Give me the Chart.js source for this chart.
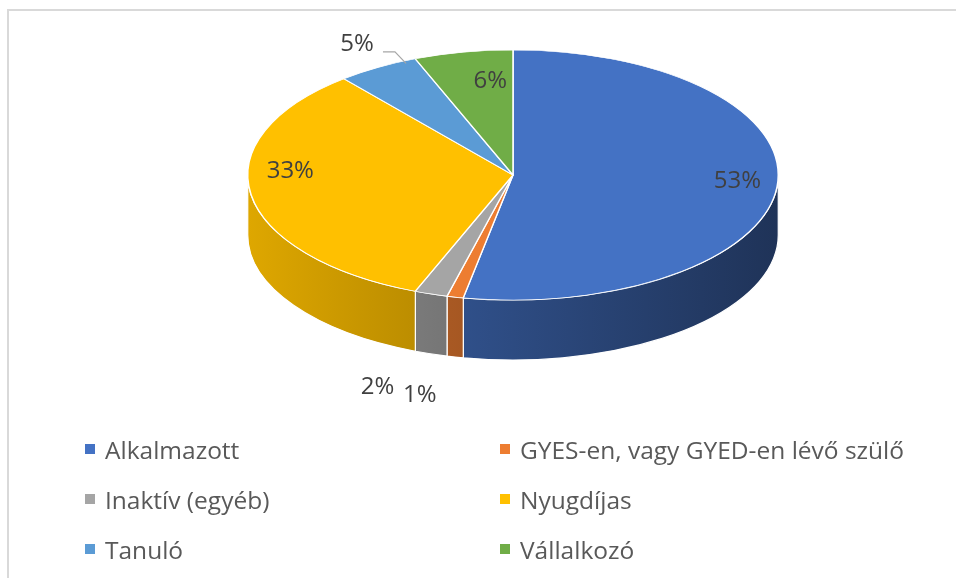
<!DOCTYPE html>
<html>
<head>
<meta charset="utf-8">
<script src="https://cdn.jsdelivr.net/npm/chart.js@4/dist/chart.umd.min.js"></script>
<style>
  body { margin: 0; background: #fff; }
  #wrap { position: relative; width: 956px; height: 578px; overflow: hidden; }
  #frame { position: absolute; left: 7px; top: 9px; width: 960px; height: 600px;
           border-left: 2px solid #d9d9d9; border-top: 2px solid #d9d9d9; }
  canvas { position: absolute; left: 0; top: 0; }
  .item { position: absolute; display: flex; align-items: center; height: 30px;
          font-family: "Open Sans", sans-serif; font-size: 24.5px; color: #595959; white-space: nowrap; }
  .item span.box { width: 10px; height: 10px; margin-right: 10px; }
</style>
</head>
<body>
<div id="wrap">
  <div id="frame"></div>
  <canvas id="pieChart" width="956" height="578"></canvas>
</div>
<script>
// Adatok
const categories = ["Alkalmazott", "GYES-en, vagy GYED-en lévő szülő", "Inaktív (egyéb)", "Nyugdíjas", "Tanuló", "Vállalkozó"];
const shares = [53, 1, 2, 33, 5, 6];
const colors = ["#4472C4", "#ED7D31", "#A5A5A5", "#FFC000", "#5B9BD5", "#70AD47"];

// 3D megjelenés beállításai
const topY = 175;      // a felső ellipszis középpontja
const radiusY = 125;   // függőleges sugár
const depth = 60;      // oldalfal magassága
// címke: [sugár arány, dx, dy, vezetővonal]
const labelPos = [[0.85, 0, -4, false], [1.35, -15, -5, false], [1.3, -29, -2, false],
                  [0.85, 0, -20, false], [1.2, 6, -2, true], [0.7, 12, -8, false]];

function shade(hex, f) {
  const n = parseInt(hex.slice(1), 16);
  const r = Math.round(((n >> 16) & 255) * f), g = Math.round(((n >> 8) & 255) * f), b = Math.round((n & 255) * f);
  return "rgb(" + r + "," + g + "," + b + ")";
}

const pie3d = {
  id: "pie3d",
  beforeDatasetsDraw(chart) {
    const ctx = chart.ctx;
    const arcs = chart.getDatasetMeta(0).data;
    const x0 = arcs[0].x, y0 = arcs[0].y, R = arcs[0].outerRadius;
    const k = radiusY / R;
    // oldalfalak
    ctx.save();
    arcs.forEach((arc, i) => {
      const a = Math.max(arc.startAngle, 0), b = Math.min(arc.endAngle, Math.PI);
      if (a >= b) return;
      const grad = ctx.createLinearGradient(x0 - R, 0, x0 + R, 0);
      grad.addColorStop(0, shade(colors[i], 0.87));
      grad.addColorStop(1, shade(colors[i], 0.45));
      ctx.beginPath();
      ctx.ellipse(x0, topY, R, R * k, 0, a, b, false);
      ctx.ellipse(x0, topY + depth, R, R * k, 0, b, a, true);
      ctx.closePath();
      ctx.fillStyle = grad;
      ctx.fill();
      ctx.strokeStyle = "#ffffff";
      ctx.lineWidth = 1.2;
      ctx.stroke();
    });
    ctx.restore();
    // felső lap: lapított kör
    ctx.save();
    ctx.translate(x0, topY);
    ctx.scale(1, k);
    ctx.translate(-x0, -y0);
  },
  afterDatasetsDraw(chart) {
    const ctx = chart.ctx;
    ctx.restore();
    const arcs = chart.getDatasetMeta(0).data;
    const x0 = arcs[0].x, R = arcs[0].outerRadius;
    const k = radiusY / R;
    ctx.save();
    ctx.font = "24px 'Open Sans', sans-serif";
    ctx.fillStyle = "#404040";
    ctx.textAlign = "center";
    ctx.textBaseline = "middle";
    arcs.forEach((arc, i) => {
      const mid = (arc.startAngle + arc.endAngle) / 2;
      const [rf, dx, dy, leader] = labelPos[i];
      let x = x0 + R * rf * Math.cos(mid);
      let y = topY + R * k * rf * Math.sin(mid);
      if (rf > 1 && Math.sin(mid) > 0) y += depth;
      x += dx; y += dy;
      ctx.fillText(shares[i] + "%", x, y);
      if (leader) {
        const t = arc.startAngle + 0.85 * (arc.endAngle - arc.startAngle);
        const ex = x0 + R * 0.98 * Math.cos(t), ey = topY + R * k * 0.98 * Math.sin(t);
        ctx.beginPath();
        ctx.moveTo(x + 26, y + 8);
        ctx.lineTo(x + 38, y + 8);
        ctx.lineTo(ex, ey);
        ctx.strokeStyle = "#a6a6a6";
        ctx.lineWidth = 1.2;
        ctx.stroke();
      }
    });
    ctx.restore();
  }
};

new Chart(document.getElementById("pieChart").getContext("2d"), {
  type: "pie",
  data: {
    labels: categories,
    datasets: [
      {
        data: shares,
        backgroundColor: colors,
        borderColor: "#ffffff",
        borderWidth: 1.5,
      },
    ],
  },
  options: {
    responsive: false,
    animation: false,
    events: [],
    layout: { padding: { left: 247, right: 177, top: 23, bottom: 23 } },
    plugins: { legend: { display: false }, tooltip: { enabled: false } },
  },
  plugins: [pie3d],
});

// Jelmagyarázat két oszlopban
const wrap = document.getElementById("wrap");
categories.forEach((name, i) => {
  const div = document.createElement("div");
  div.className = "item";
  div.style.left = (i % 2 === 0 ? 85 : 500) + "px";
  div.style.top = (449 + Math.floor(i / 2) * 50 - 15) + "px";
  const box = document.createElement("span");
  box.className = "box";
  box.style.background = colors[i];
  div.appendChild(box);
  div.appendChild(document.createTextNode(name));
  wrap.appendChild(div);
});
</script>
</body>
</html>
